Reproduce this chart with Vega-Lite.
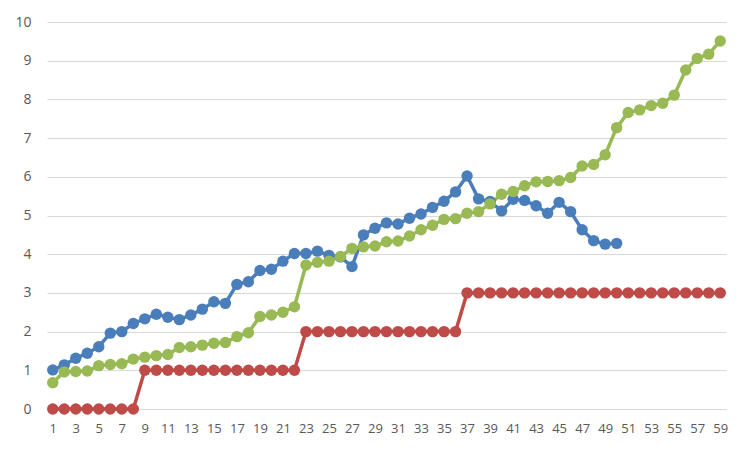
{
  "$schema": "https://vega.github.io/schema/vega-lite/v6.json",
  "width": 679,
  "height": 387,
  "autosize": {"type": "none"},
  "padding": {"left": 47, "top": 22, "right": 29, "bottom": 52},
  "background": "white",
  "config": {"view": {"stroke": null}, "font": "Open Sans"},
  "data": {
    "values": [
      {"x":1,"s":"A","y":1.01},{"x":2,"s":"A","y":1.14},{"x":3,"s":"A","y":1.31},{"x":4,"s":"A","y":1.44},{"x":5,"s":"A","y":1.61},{"x":6,"s":"A","y":1.96},{"x":7,"s":"A","y":2.0},{"x":8,"s":"A","y":2.21},{"x":9,"s":"A","y":2.33},{"x":10,"s":"A","y":2.45},
      {"x":11,"s":"A","y":2.37},{"x":12,"s":"A","y":2.31},{"x":13,"s":"A","y":2.43},{"x":14,"s":"A","y":2.58},{"x":15,"s":"A","y":2.77},{"x":16,"s":"A","y":2.73},{"x":17,"s":"A","y":3.22},{"x":18,"s":"A","y":3.29},{"x":19,"s":"A","y":3.58},{"x":20,"s":"A","y":3.61},
      {"x":21,"s":"A","y":3.82},{"x":22,"s":"A","y":4.02},{"x":23,"s":"A","y":4.02},{"x":24,"s":"A","y":4.08},{"x":25,"s":"A","y":3.97},{"x":26,"s":"A","y":3.93},{"x":27,"s":"A","y":3.68},{"x":28,"s":"A","y":4.5},{"x":29,"s":"A","y":4.67},{"x":30,"s":"A","y":4.81},
      {"x":31,"s":"A","y":4.78},{"x":32,"s":"A","y":4.93},{"x":33,"s":"A","y":5.04},{"x":34,"s":"A","y":5.21},{"x":35,"s":"A","y":5.37},{"x":36,"s":"A","y":5.61},{"x":37,"s":"A","y":6.02},{"x":38,"s":"A","y":5.43},{"x":39,"s":"A","y":5.36},{"x":40,"s":"A","y":5.12},
      {"x":41,"s":"A","y":5.42},{"x":42,"s":"A","y":5.39},{"x":43,"s":"A","y":5.25},{"x":44,"s":"A","y":5.06},{"x":45,"s":"A","y":5.34},{"x":46,"s":"A","y":5.1},{"x":47,"s":"A","y":4.63},{"x":48,"s":"A","y":4.35},{"x":49,"s":"A","y":4.26},{"x":50,"s":"A","y":4.28},
      {"x":1,"s":"B","y":0},{"x":2,"s":"B","y":0},{"x":3,"s":"B","y":0},{"x":4,"s":"B","y":0},{"x":5,"s":"B","y":0},{"x":6,"s":"B","y":0},{"x":7,"s":"B","y":0},{"x":8,"s":"B","y":0},{"x":9,"s":"B","y":1},{"x":10,"s":"B","y":1},
      {"x":11,"s":"B","y":1},{"x":12,"s":"B","y":1},{"x":13,"s":"B","y":1},{"x":14,"s":"B","y":1},{"x":15,"s":"B","y":1},{"x":16,"s":"B","y":1},{"x":17,"s":"B","y":1},{"x":18,"s":"B","y":1},{"x":19,"s":"B","y":1},{"x":20,"s":"B","y":1},
      {"x":21,"s":"B","y":1},{"x":22,"s":"B","y":1},{"x":23,"s":"B","y":2},{"x":24,"s":"B","y":2},{"x":25,"s":"B","y":2},{"x":26,"s":"B","y":2},{"x":27,"s":"B","y":2},{"x":28,"s":"B","y":2},{"x":29,"s":"B","y":2},{"x":30,"s":"B","y":2},
      {"x":31,"s":"B","y":2},{"x":32,"s":"B","y":2},{"x":33,"s":"B","y":2},{"x":34,"s":"B","y":2},{"x":35,"s":"B","y":2},{"x":36,"s":"B","y":2},{"x":37,"s":"B","y":3},{"x":38,"s":"B","y":3},{"x":39,"s":"B","y":3},{"x":40,"s":"B","y":3},
      {"x":41,"s":"B","y":3},{"x":42,"s":"B","y":3},{"x":43,"s":"B","y":3},{"x":44,"s":"B","y":3},{"x":45,"s":"B","y":3},{"x":46,"s":"B","y":3},{"x":47,"s":"B","y":3},{"x":48,"s":"B","y":3},{"x":49,"s":"B","y":3},{"x":50,"s":"B","y":3},
      {"x":51,"s":"B","y":3},{"x":52,"s":"B","y":3},{"x":53,"s":"B","y":3},{"x":54,"s":"B","y":3},{"x":55,"s":"B","y":3},{"x":56,"s":"B","y":3},{"x":57,"s":"B","y":3},{"x":58,"s":"B","y":3},{"x":59,"s":"B","y":3},
      {"x":1,"s":"C","y":0.68},{"x":2,"s":"C","y":0.96},{"x":3,"s":"C","y":0.97},{"x":4,"s":"C","y":0.98},{"x":5,"s":"C","y":1.12},{"x":6,"s":"C","y":1.15},{"x":7,"s":"C","y":1.17},{"x":8,"s":"C","y":1.29},{"x":9,"s":"C","y":1.34},{"x":10,"s":"C","y":1.38},
      {"x":11,"s":"C","y":1.41},{"x":12,"s":"C","y":1.59},{"x":13,"s":"C","y":1.61},{"x":14,"s":"C","y":1.65},{"x":15,"s":"C","y":1.7},{"x":16,"s":"C","y":1.72},{"x":17,"s":"C","y":1.87},{"x":18,"s":"C","y":1.97},{"x":19,"s":"C","y":2.39},{"x":20,"s":"C","y":2.43},
      {"x":21,"s":"C","y":2.5},{"x":22,"s":"C","y":2.64},{"x":23,"s":"C","y":3.72},{"x":24,"s":"C","y":3.79},{"x":25,"s":"C","y":3.82},{"x":26,"s":"C","y":3.94},{"x":27,"s":"C","y":4.15},{"x":28,"s":"C","y":4.19},{"x":29,"s":"C","y":4.21},{"x":30,"s":"C","y":4.32},
      {"x":31,"s":"C","y":4.34},{"x":32,"s":"C","y":4.47},{"x":33,"s":"C","y":4.63},{"x":34,"s":"C","y":4.75},{"x":35,"s":"C","y":4.9},{"x":36,"s":"C","y":4.92},{"x":37,"s":"C","y":5.06},{"x":38,"s":"C","y":5.1},{"x":39,"s":"C","y":5.3},{"x":40,"s":"C","y":5.55},
      {"x":41,"s":"C","y":5.62},{"x":42,"s":"C","y":5.77},{"x":43,"s":"C","y":5.87},{"x":44,"s":"C","y":5.88},{"x":45,"s":"C","y":5.9},{"x":46,"s":"C","y":5.98},{"x":47,"s":"C","y":6.28},{"x":48,"s":"C","y":6.32},{"x":49,"s":"C","y":6.57},{"x":50,"s":"C","y":7.27},
      {"x":51,"s":"C","y":7.66},{"x":52,"s":"C","y":7.73},{"x":53,"s":"C","y":7.84},{"x":54,"s":"C","y":7.9},{"x":55,"s":"C","y":8.11},{"x":56,"s":"C","y":8.76},{"x":57,"s":"C","y":9.06},{"x":58,"s":"C","y":9.17},{"x":59,"s":"C","y":9.51}
    ]
  },
  "mark": {"type": "line", "strokeWidth": 3.5, "point": {"filled": true, "size": 130, "opacity": 1}},
  "encoding": {
    "x": {
      "field": "x", "type": "quantitative",
      "scale": {"domain": [0.5, 59.5], "nice": false, "zero": false},
      "axis": {
        "title": null, "grid": false, "ticks": false, "domain": true, "domainColor": "#d9d9d9", "domainWidth": 1,
        "values": [1,3,5,7,9,11,13,15,17,19,21,23,25,27,29,31,33,35,37,39,41,43,45,47,49,51,53,55,57,59],
        "labelColor": "#595959", "labelFontSize": 13, "labelPadding": 13, "labelFlush": false, "labelOverlap": false
      }
    },
    "y": {
      "field": "y", "type": "quantitative",
      "scale": {"domain": [0, 10], "nice": false},
      "axis": {
        "title": null, "domain": false, "ticks": false,
        "values": [0,1,2,3,4,5,6,7,8,9,10],
        "gridColor": "#d9d9d9", "gridWidth": 1, "labelOverlap": false,
        "labelColor": "#595959", "labelFontSize": 14, "labelPadding": 16
      }
    },
    "color": {
      "field": "s", "type": "nominal",
      "scale": {"domain": ["A", "B", "C"], "range": ["#4a7ebb", "#be4b48", "#98b954"]},
      "legend": null
    },
    "order": {"field": "x", "type": "quantitative"}
  }
}
